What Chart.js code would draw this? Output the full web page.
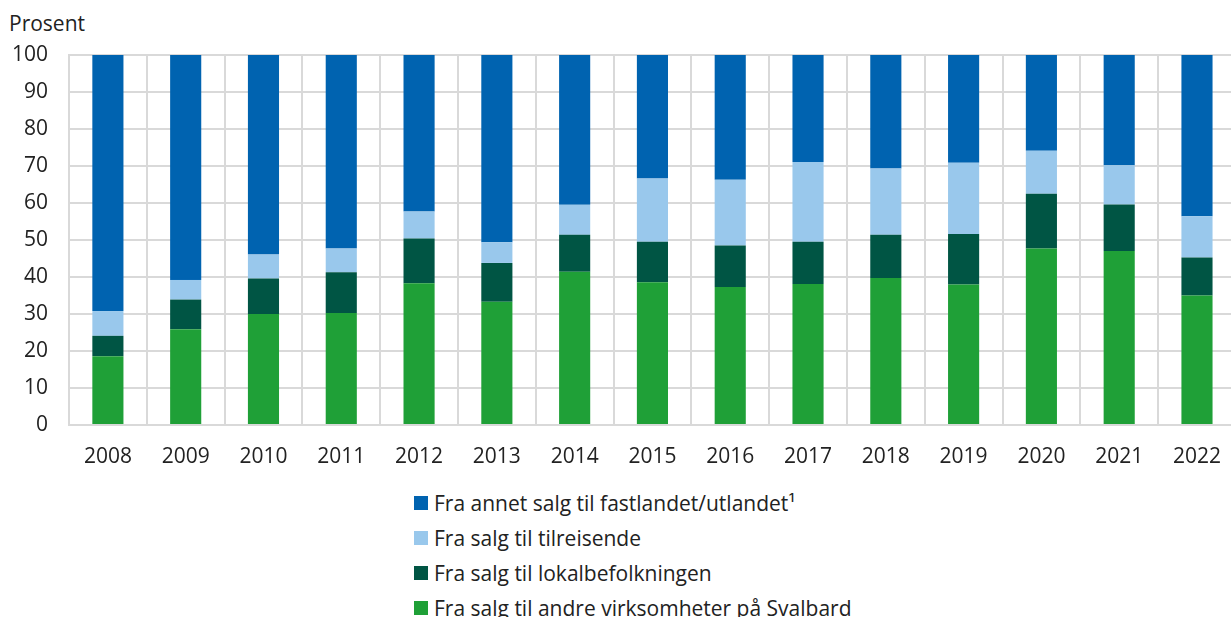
<!DOCTYPE html>
<html>
<head>
<meta charset="utf-8">
<script src="https://cdn.jsdelivr.net/npm/chart.js@4/dist/chart.umd.min.js"></script>
<style>
  html, body { margin: 0; padding: 0; background: #fff; overflow: hidden; }
  body { width: 1231px; height: 617px; position: relative; font-family: "Open Sans", sans-serif; color: #222; }
  #unit { position: absolute; left: 9px; top: 9px; font-size: 21px; }
  #wrap { position: absolute; left: 0; top: 0; width: 1240px; height: 480px; }
  #legend { position: absolute; left: 414px; top: 488px; font-size: 21px; }
  .item { height: 35px; line-height: 30px; display: flex; align-items: center; }
  .item .box { width: 14px; height: 14px; margin-right: 6px; margin-top: -6px; }
  .item span.t { margin-top: -6px; }
</style>
</head>
<body>
<div id="unit">Prosent</div>
<div id="wrap"><canvas id="chart" width="1240" height="480"></canvas></div>
<div id="legend"></div>
<script>
// ========= DATA ========= //
const years = ["2008", "2009", "2010", "2011", "2012", "2013", "2014", "2015",
               "2016", "2017", "2018", "2019", "2020", "2021", "2022"];

const andreVirksomheter = [18.6, 25.9, 30.0, 30.3, 38.3, 33.3, 41.4, 38.6, 37.3, 38.1, 39.7, 38.0, 47.7, 47.0, 35.0];
const lokalbefolkningen = [5.5, 8.0, 9.6, 11.0, 12.1, 10.5, 10.0, 10.9, 11.2, 11.4, 11.7, 13.6, 14.8, 12.6, 10.3];
const tilreisende = [6.7, 5.3, 6.5, 6.4, 7.3, 5.6, 8.1, 17.1, 17.8, 21.6, 17.9, 19.3, 11.6, 10.6, 11.1];
const fastlandetUtlandet = [69.2, 60.8, 53.9, 52.3, 42.3, 50.6, 40.5, 33.4, 33.7, 28.9, 30.7, 29.1, 25.9, 29.8, 43.6];

const yTicks = [0, 10, 20, 30, 40, 50, 60, 70, 80, 90, 100];

// ========= SERIES (bottom to top) ========= //
const series = [
    { label: "Fra salg til andre virksomheter på Svalbard", data: andreVirksomheter, color: "#1fa037" },
    { label: "Fra salg til lokalbefolkningen", data: lokalbefolkningen, color: "#005544" },
    { label: "Fra salg til tilreisende", data: tilreisende, color: "#99c8ec" },
    { label: "Fra annet salg til fastlandet/utlandet¹", data: fastlandetUtlandet, color: "#0063b0" }
];

const FONT = { family: "'Open Sans', sans-serif", size: 21 };

new Chart(document.getElementById("chart"), {
    type: "bar",
    data: {
        labels: years,
        datasets: series.map(s => ({
            label: s.label,
            data: s.data,
            backgroundColor: s.color,
            borderWidth: 0,
            barPercentage: 0.4,
            categoryPercentage: 1.0
        }))
    },
    options: {
        responsive: false,
        animation: false,
        layout: { padding: { top: 55, left: 0, right: 0, bottom: 0 } },
        plugins: {
            legend: { display: false },
            tooltip: { enabled: false }
        },
        scales: {
            x: {
                stacked: true,
                grid: { color: "#d9d9d9", lineWidth: 2, drawTicks: false, offset: true },
                border: { color: "#d9d9d9", width: 2 },
                ticks: { color: "#222", font: FONT, padding: 19, maxRotation: 0 },
                afterFit: (scale) => { scale.height = 55; }
            },
            y: {
                stacked: true,
                min: 0,
                max: 100,
                afterBuildTicks: (scale) => { scale.ticks = yTicks.map(v => ({ value: v })); },
                grid: { color: "#d9d9d9", lineWidth: 2, drawTicks: false },
                border: { color: "#d9d9d9", width: 2 },
                ticks: { color: "#222", font: FONT, padding: 21 },
                afterFit: (scale) => { scale.width = 69; }
            }
        }
    }
});

// ========= LEGEND ========= //
const legend = document.getElementById("legend");
series.slice().reverse().forEach(s => {
    const row = document.createElement("div");
    row.className = "item";
    row.innerHTML = '<div class="box" style="background:' + s.color + '"></div><span class="t">' + s.label + '</span>';
    legend.appendChild(row);
});
</script>
</body>
</html>
